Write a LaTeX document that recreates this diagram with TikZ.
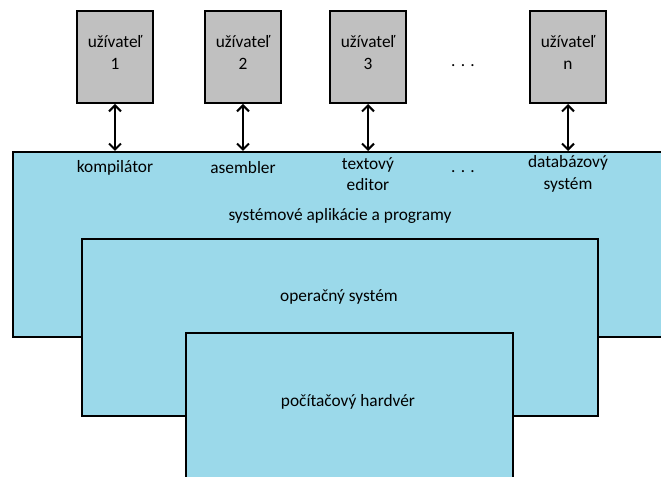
\documentclass[tikz,border=0pt]{standalone}
\usepackage{fontspec}
\setmainfont{Carlito}
\usetikzlibrary{arrows.meta}

\definecolor{layerblue}{RGB}{155,217,234}
\definecolor{usergray}{RGB}{192,192,192}

\tikzset{
  user/.style={draw, line width=1.5pt, fill=usergray, minimum width=57pt,
    minimum height=69pt, align=center, inner sep=0pt, text depth=7pt},
  layer/.style={draw, line width=1.5pt, fill=layerblue, inner sep=0pt,
    anchor=north west},
  prog/.style={align=center, inner sep=0pt},
  link/.style={line width=1.5pt,
    {Straight Barb[length=4.5pt,width=9pt]}-{Straight Barb[length=4.5pt,width=9pt]}}
}

\begin{document}
\begin{tikzpicture}[x=0.75pt, y=-0.75pt, font=\fontsize{13}{16}\selectfont]
        \useasboundingbox (0,0) rectangle (661,477);
        \clip (0,0) rectangle (661,477);

        % layers, back to front
        \node[layer, minimum width=494pt, minimum height=138.75pt] (apps) at (12,151) {};
        \node[layer, minimum width=387pt, minimum height=132.75pt] (os) at (81,238) {};
        \node[layer, minimum width=245.25pt, minimum height=112pt] (hw) at (185,332) {};

        \node[prog] (appstext) at (340,216) {systémové aplikácie a programy};
        \node[prog] (ostext) at (339,297) {operačný systém};
        \node[prog] (hwtext) at (348,402) {počítačový hardvér};

        % users
        \node[user] (u1) at (115,57) {užívateľ\\1};
        \node[user] (u2) at (243,57) {užívateľ\\2};
        \node[user] (u3) at (368,57) {užívateľ\\3};
        \node[user] (un) at (568,57) {užívateľ\\n};
        \node[prog] (udots) at (463,66) {. . .};

        % programs
        \node[prog] (komp) at (115,168) {kompilátor};
        \node[prog] (asem) at (243,168) {asembler};
        \node[prog] (edit) at (368,174) {textový\\editor};
        \node[prog] (pdots) at (463,172) {. . .};
        \node[prog] (dbs) at (568,174) {databázový\\systém};

        \foreach \u in {u1,u2,u3,un}
          \draw[link] (\u.south) -- (\u.south |- apps.north);
\end{tikzpicture}
\end{document}
